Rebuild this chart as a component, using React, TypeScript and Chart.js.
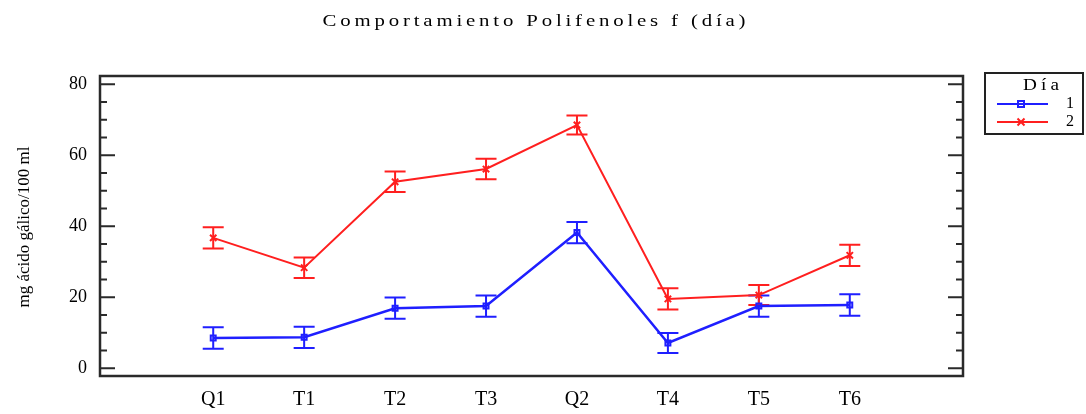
import React, { useEffect, useRef } from "react";
import { Chart, registerables } from "chart.js";

Chart.register(...registerables);

// ---- Data ----
const categories = ["Q1", "T1", "T2", "T3", "Q2", "T4", "T5", "T6"];
const dia1Values = [8.5, 8.7, 16.9, 17.5, 38.2, 7.1, 17.5, 17.8];
const dia1Errors = [3.0, 3.0, 3.0, 3.0, 3.0, 2.8, 3.0, 3.0];
const dia2Values = [36.7, 28.3, 52.5, 56.1, 68.5, 19.5, 20.6, 31.8];
const dia2Errors = [3.0, 2.9, 2.9, 2.9, 2.7, 3.0, 2.8, 3.0];
const seriesLabels = ["1", "2"];
const yTickValues = [0, 20, 40, 60, 80];
const yMinorStep = 5;
const chartTitle = "Comportamiento Polifenoles f (día)";
const yAxisTitle = "mg ácido gálico/100 ml";
const legendTitle = "Día";

const BLUE = "#1f1fff";
const RED = "#ff1f1f";
const SERIF = "'Liberation Serif', 'DejaVu Serif', serif";

// draw text centred at cx, stretched horizontally by sx, spread to a total width
function drawWide(ctx: CanvasRenderingContext2D, text: string, cx: number, y: number, sx: number, totalWidth: number) {
  ctx.save();
  const w0 = ctx.measureText(text).width;
  const gaps = Math.max(1, text.length - 1);
  const spacing = Math.max(0, (totalWidth / sx - w0) / gaps);
  (ctx as any).letterSpacing = spacing + "px";
  ctx.textAlign = "left";
  ctx.translate(cx - totalWidth / 2, y);
  ctx.scale(sx, 1);
  ctx.fillText(text, 0, 0);
  ctx.restore();
}

const decorPlugin = {
  id: "decor",
  beforeDatasetsDraw(chart: any) {
    const ctx = chart.ctx as CanvasRenderingContext2D;
    const xs = chart.scales.x;
    const ys = chart.scales.y;
    ctx.save();
    chart.data.datasets.forEach((ds: any) => {
      ctx.strokeStyle = ds.borderColor;
      ctx.lineWidth = 2;
      ds.data.forEach((p: any, j: number) => {
        const e = ds.errors[j];
        const x = xs.getPixelForValue(p.x);
        const y1 = ys.getPixelForValue(p.y + e);
        const y2 = ys.getPixelForValue(p.y - e);
        ctx.beginPath();
        ctx.moveTo(x, y1);
        ctx.lineTo(x, y2);
        ctx.moveTo(x - 10.5, y1);
        ctx.lineTo(x + 10.5, y1);
        ctx.moveTo(x - 10.5, y2);
        ctx.lineTo(x + 10.5, y2);
        ctx.stroke();
      });
    });
    ctx.restore();
  },
  afterDraw(chart: any) {
    const ctx = chart.ctx as CanvasRenderingContext2D;
    const a = chart.chartArea;
    const ys = chart.scales.y;
    ctx.save();
    // frame
    ctx.strokeStyle = "#2a2a2a";
    ctx.lineWidth = 2.5;
    ctx.strokeRect(a.left, a.top, a.right - a.left, a.bottom - a.top);
    // ticks on left and right
    ctx.lineWidth = 2;
    for (let v = yTickValues[0]; v <= yTickValues[yTickValues.length - 1]; v += yMinorStep) {
      const y = ys.getPixelForValue(v);
      const len = yTickValues.includes(v) ? 15 : 7;
      ctx.beginPath();
      ctx.moveTo(a.left, y);
      ctx.lineTo(a.left + len, y);
      ctx.moveTo(a.right, y);
      ctx.lineTo(a.right - len, y);
      ctx.stroke();
    }
    // title
    ctx.fillStyle = "#000";
    ctx.font = `16px ${SERIF}`;
    ctx.textBaseline = "alphabetic";
    drawWide(ctx, chartTitle, 534, 26, 1.3, 423);
    // y axis title
    ctx.save();
    ctx.translate(25, 227);
    ctx.rotate(-Math.PI / 2);
    ctx.font = `17px ${SERIF}`;
    ctx.textAlign = "center";
    ctx.textBaseline = "middle";
    ctx.fillText(yAxisTitle, 0, 0);
    ctx.restore();
    // legend
    const lx = 985, ly = 73, lw = 98, lh = 61;
    ctx.strokeStyle = "#222";
    ctx.lineWidth = 2;
    ctx.strokeRect(lx, ly, lw, lh);
    ctx.fillStyle = "#000";
    ctx.font = `16px ${SERIF}`;
    ctx.textBaseline = "middle";
    drawWide(ctx, legendTitle, 1041, 86, 1.2, 36);
    const rows = [
      { y: 104, color: BLUE, style: "rect", label: seriesLabels[0] },
      { y: 122, color: RED, style: "x", label: seriesLabels[1] },
    ];
    rows.forEach((r) => {
      ctx.strokeStyle = r.color;
      ctx.lineWidth = 2;
      ctx.beginPath();
      ctx.moveTo(997, r.y);
      ctx.lineTo(1048, r.y);
      ctx.stroke();
      const mx = 1021;
      ctx.beginPath();
      if (r.style === "rect") {
        ctx.rect(mx - 3, r.y - 3, 6, 6);
      } else {
        ctx.moveTo(mx - 3.5, r.y - 3.5);
        ctx.lineTo(mx + 3.5, r.y + 3.5);
        ctx.moveTo(mx + 3.5, r.y - 3.5);
        ctx.lineTo(mx - 3.5, r.y + 3.5);
      }
      ctx.stroke();
      ctx.fillStyle = "#000";
      ctx.textAlign = "left";
      ctx.fillText(r.label, 1066, r.y);
    });
    ctx.restore();
  },
};

export default function App() {
  const ref = useRef<HTMLCanvasElement | null>(null);
  useEffect(() => {
    if (!ref.current) return;
    const toPoints = (vals: number[]) => vals.map((v, i) => ({ x: i, y: v }));
    const chart = new Chart(ref.current, {
      type: "line",
      data: {
        datasets: [
          {
            label: seriesLabels[0],
            data: toPoints(dia1Values),
            errors: dia1Errors,
            borderColor: BLUE,
            backgroundColor: "rgba(255,255,255,0)",
            borderWidth: 2.5,
            pointStyle: "rect",
            pointRadius: 3.5,
            pointBorderWidth: 2,
            tension: 0,
          } as any,
          {
            label: seriesLabels[1],
            data: toPoints(dia2Values),
            errors: dia2Errors,
            borderColor: RED,
            backgroundColor: RED,
            borderWidth: 2,
            pointStyle: "crossRot",
            pointRadius: 4.5,
            pointBorderWidth: 2,
            tension: 0,
          } as any,
        ],
      },
      options: {
        animation: false,
        responsive: false,
        devicePixelRatio: 1,
        layout: { padding: { left: 0, top: 76, right: 123, bottom: 0 }, autoPadding: false },
        plugins: { legend: { display: false }, title: { display: false }, tooltip: { enabled: false } },
        scales: {
          x: {
            type: "linear",
            min: -1.245,
            max: 8.245,
            grid: { display: false, drawTicks: false },
            border: { display: false },
            afterBuildTicks: (s: any) => {
              s.ticks = categories.map((_, i) => ({ value: i }));
            },
            afterFit: (s: any) => {
              s.height = 38;
            },
            ticks: {
              autoSkip: false,
              maxRotation: 0,
              padding: 12,
              color: "#000",
              font: { family: SERIF, size: 20 },
              callback: (v: any) => categories[v as number] ?? "",
            },
          },
          y: {
            type: "linear",
            min: -2.2,
            max: 82.3,
            grid: { display: false, drawTicks: false },
            border: { display: false },
            afterBuildTicks: (s: any) => {
              s.ticks = yTickValues.map((v) => ({ value: v }));
            },
            afterFit: (s: any) => {
              s.width = 100;
            },
            ticks: {
              padding: 13,
              color: "#000",
              font: { family: SERIF, size: 18 },
            },
          },
        },
      } as any,
      plugins: [decorPlugin],
    });
    return () => chart.destroy();
  }, []);
  return (
    <div style={{ position: "absolute", left: 0, top: 0, width: 1086, height: 414, background: "#fff" }}>
      <canvas ref={ref} width={1086} height={414} style={{ display: "block", width: 1086, height: 414 }} />
    </div>
  );
}
